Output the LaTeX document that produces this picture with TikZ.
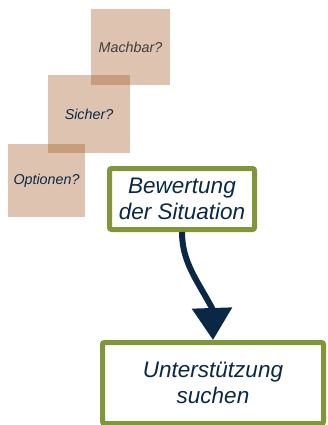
\documentclass[tikz,border=0pt]{standalone}
\usepackage{fontspec}
\setmainfont{Liberation Sans}
\usepackage{xcolor}
\usepackage{tikz}
\usetikzlibrary{arrows.meta}

\definecolor{navy}{RGB}{10,40,70}
\definecolor{boxgreen}{RGB}{128,150,56}
\definecolor{sqbrown}{RGB}{155,76,16}
\definecolor{darkgray}{RGB}{60,60,60}

\begin{document}
\begin{tikzpicture}[x=1pt, y=-1pt,
    question/.style={rectangle, fill=sqbrown, fill opacity=0.33, text opacity=1, inner sep=0pt,
        font=\fontsize{14.3}{17}\selectfont\itshape, text=navy},
    stage/.style={rectangle, draw=boxgreen, line width=5pt, rounded corners=2pt, fill=white,
        inner sep=0pt, align=center, text=navy, font=\fontsize{22.5}{26}\selectfont\itshape}]
    \useasboundingbox (0,0) rectangle (327,425);

    \node[question, minimum width=79pt, minimum height=76pt, text=darkgray] (mach) at (130.5,47) {Machbar?};
    \node[question, minimum width=82pt, minimum height=78pt] (sicher) at (89,114) {Sicher?};
    \node[question, minimum width=77pt, minimum height=73pt] (opt) at (46.5,180.5) {Optionen?};

    \node[stage, minimum width=145pt, minimum height=61pt] (bewertung) at (182,199) {Bewertung\\der Situation};
    \node[stage, minimum width=221pt, minimum height=81pt] (hilfe) at (213,383) {Unterstützung\\suchen};

    \draw[navy, line width=6pt, -{Triangle[length=32pt, width=39pt]}]
        (bewertung.south) .. controls (182,262) and (197,280) .. (212,308) -- (hilfe.north);
\end{tikzpicture}
\end{document}
